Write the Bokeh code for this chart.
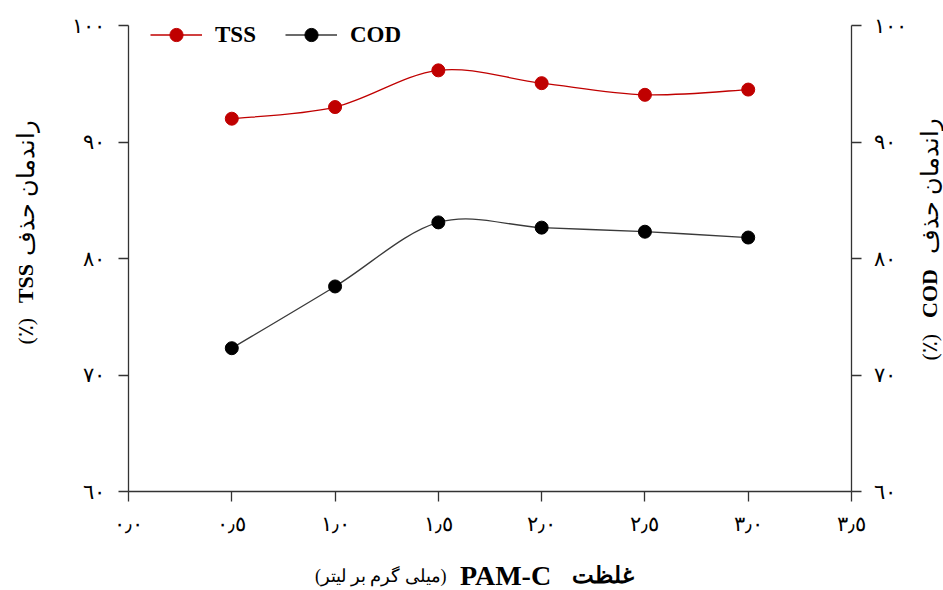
import math
from bokeh.plotting import figure
from bokeh.models import (Range1d, LinearAxis, FixedTicker, Label, Legend,
                          LegendItem, ColumnDataSource)
from bokeh.embed import file_html
from bokeh.resources import INLINE

# ---------------- data ----------------
concentration = [0.5, 1.0, 1.5, 2.0, 2.5, 3.0]
tss_removal = [92.0, 93.0, 96.15, 95.05, 94.05, 94.5]
cod_removal = [72.3, 77.6, 83.1, 82.65, 82.3, 81.8]
series_names = ["TSS", "COD"]
x_ticks = [0.0, 0.5, 1.0, 1.5, 2.0, 2.5, 3.0, 3.5]
x_tick_labels = ["٠٫٠", "٠٫٥", "١٫٠", "١٫٥", "٢٫٠", "٢٫٥", "٣٫٠", "٣٫٥"]
y_ticks = [60, 70, 80, 90, 100]
y_tick_labels = ["٦٠", "٧٠", "٨٠", "٩٠", "١٠٠"]
x_title = ["(میلی گرم بر لیتر)", "PAM-C", "غلظت"]
y_title_left = ["(٪)", "TSS", "راندمان حذف"]
y_title_right = ["(٪)", "COD", "راندمان حذف"]

# ---------------- layout ----------------
W, H = 943, 590
# pixel box of the axes inside the canvas
L, Rpx, T, Bpx = 128, 851, 25, 491
XMIN, XMAX, YMIN, YMAX = 0.0, 3.5, 60.0, 100.0
sx = (XMAX - XMIN) / (Rpx - L)
sy = (YMAX - YMIN) / (Bpx - T)
X0, X1 = XMIN - L * sx, XMAX + (W - Rpx) * sx
Y0, Y1 = YMIN - (H - Bpx) * sy, YMAX + T * sy


def px2x(px):
    return X0 + px * sx


def py2y(py):
    return Y1 - py * sy


SERIF = "Liberation Serif"
AXIS_COLOR = "#333333"

p = figure(width=W, height=H, output_backend="svg", toolbar_location=None,
           x_range=Range1d(X0, X1), y_range=Range1d(Y0, Y1),
           min_border=0, x_axis_type=None, y_axis_type=None)
p.outline_line_color = None
p.background_fill_color = "white"
p.border_fill_color = "white"


def make_axis(ticks, labels, standoff, loc, bounds):
    ax = LinearAxis(fixed_location=loc, bounds=bounds)
    ax.ticker = FixedTicker(ticks=ticks)
    ax.major_label_overrides = {t: s for t, s in zip(ticks, labels)}
    ax.axis_line_color = AXIS_COLOR
    ax.axis_line_width = 1.3
    ax.major_tick_line_color = AXIS_COLOR
    ax.major_tick_line_width = 1.3
    ax.major_tick_in = 0
    ax.major_tick_out = 10
    ax.minor_tick_line_color = None
    ax.major_label_text_font = SERIF
    ax.major_label_text_font_size = "21px"
    ax.major_label_text_color = "black"
    ax.major_label_standoff = standoff
    return ax


p.add_layout(make_axis(x_ticks, x_tick_labels, 10, YMIN, (XMIN, XMAX)), "below")
p.add_layout(make_axis(y_ticks, y_tick_labels, 14, XMIN, (YMIN, YMAX)), "left")
p.add_layout(make_axis(y_ticks, y_tick_labels, 12, XMAX, (YMIN, YMAX)), "right")


def smooth(xs, ys):
    n = len(xs)
    d = dict(x0=[], y0=[], x1=[], y1=[], cx0=[], cy0=[], cx1=[], cy1=[])
    for i in range(n - 1):
        a, b = max(i - 1, 0), min(i + 2, n - 1)
        d["x0"].append(xs[i]); d["y0"].append(ys[i])
        d["x1"].append(xs[i + 1]); d["y1"].append(ys[i + 1])
        d["cx0"].append(xs[i] + (xs[i + 1] - xs[a]) / 6)
        d["cy0"].append(ys[i] + (ys[i + 1] - ys[a]) / 6)
        d["cx1"].append(xs[i + 1] - (xs[b] - xs[i]) / 6)
        d["cy1"].append(ys[i + 1] - (ys[b] - ys[i]) / 6)
    return ColumnDataSource(d)


items = []
for name, vals, lc, mc in [(series_names[0], tss_removal, "#C00000", "#C00000"),
                           (series_names[1], cod_removal, "#3a3a3a", "black")]:
    br = p.bezier(x0="x0", y0="y0", x1="x1", y1="y1", cx0="cx0", cy0="cy0",
                  cx1="cx1", cy1="cy1", source=smooth(concentration, vals),
                  line_color=lc, line_width=1.3)
    sr = p.scatter(concentration, vals, size=13, fill_color=mc, line_color=mc)
    items.append(LegendItem(label=name, renderers=[br, sr]))

leg = Legend(items=items, orientation="horizontal", location=(150, H - 51),
             glyph_width=52, glyph_height=33, label_standoff=13, spacing=29,
             padding=0, margin=0, border_line_color=None,
             background_fill_alpha=0, label_text_font=SERIF,
             label_text_font_size="23px", label_text_font_style="bold",
             label_text_color="black")
p.add_layout(leg, "center")


def lab(px, py, text, size, bold=False, align="center", angle=0.0):
    p.add_layout(Label(x=px2x(px), y=py2y(py), text=text, angle=angle,
                       text_align=align, text_baseline="middle",
                       text_font=SERIF, text_font_size=size,
                       text_font_style="bold" if bold else "normal",
                       text_color="black"))


# ---------------- x title (pieces so that Latin part can be bold) -------
lab(446, 575, x_title[0], "18px", align="right")
lab(505, 575, x_title[1], "28px", bold=True, align="center")
lab(633, 575, x_title[2], "23px", bold=True, align="right")

# ---------------- y titles ----------------
A = math.pi / 2
AR_V = "24px"
lab(25, 344, y_title_left[0], "22px", align="left", angle=A)
lab(25, 283, y_title_left[1], "22px", bold=True, angle=A)
lab(25, 119, y_title_left[2], AR_V, align="right", angle=A)

lab(929, 360, y_title_right[0], "22px", align="left", angle=A)
lab(929, 293, y_title_right[1], "22px", bold=True, angle=A)
lab(929, 117, y_title_right[2], AR_V, align="right", angle=A)

open("out.html", "w").write(file_html(p, INLINE))
